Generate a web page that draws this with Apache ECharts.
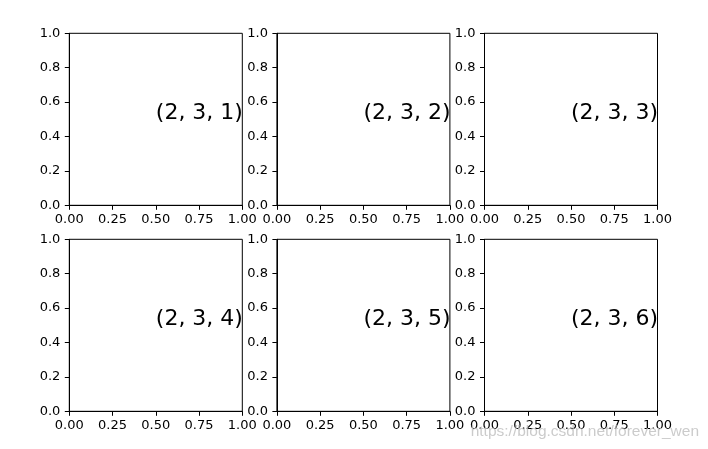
<!DOCTYPE html>
<html>
<head>
<meta charset="utf-8">
<script src="https://cdn.jsdelivr.net/npm/echarts@6/dist/echarts.min.js"></script>
<style>html,body{margin:0;padding:0;background:#fff}#c{width:708px;height:449px}</style>
</head>
<body>
<div id="c"></div>
<script>
const subplotLabels = ['(2, 3, 1)', '(2, 3, 2)', '(2, 3, 3)', '(2, 3, 4)', '(2, 3, 5)', '(2, 3, 6)'];
const textPoint = [0.5, 0.5];
const xRange = [0, 1];
const xStep = 0.25;
const yRange = [0, 1];
const yStep = 0.2;
const watermark = 'https://blog.csdn.net/forever_wen';

const FONT = 'DejaVu Sans';
const colLefts = [69.3, 276.9, 484.5];
const rowTops = [33.3, 239.3];
const W = 173, H = 172;

const grids = [], xAxes = [], yAxes = [], series = [];
subplotLabels.forEach((lab, i) => {
  const r = Math.floor(i / 3), c = i % 3;
  grids.push({left: colLefts[c], top: rowTops[r], width: W, height: H,
    show: true, borderColor: '#000', borderWidth: 1, backgroundColor: 'transparent', containLabel: false});
  xAxes.push({type: 'value', gridIndex: i, min: xRange[0], max: xRange[1], interval: xStep,
    splitLine: {show: false},
    axisLine: {show: true, onZero: false, lineStyle: {color: '#000', width: 1}},
    axisTick: {show: true, inside: false, length: 4.5, lineStyle: {color: '#000', width: 1}},
    axisLabel: {show: true, margin: 8, color: '#000', fontFamily: FONT, fontSize: 13,
      formatter: v => v.toFixed(2), showMinLabel: true, showMaxLabel: true, hideOverlap: false}});
  yAxes.push({type: 'value', gridIndex: i, min: yRange[0], max: yRange[1], interval: yStep,
    splitLine: {show: false},
    axisLine: {show: true, onZero: false, lineStyle: {color: '#000', width: 1}},
    axisTick: {show: true, inside: false, length: 4.5, lineStyle: {color: '#000', width: 1}},
    axisLabel: {show: true, margin: 9, color: '#000', fontFamily: FONT, fontSize: 13,
      formatter: v => v.toFixed(1), showMinLabel: true, showMaxLabel: true, hideOverlap: false}});
  series.push({type: 'scatter', xAxisIndex: i, yAxisIndex: i, symbolSize: 0, silent: true,
    itemStyle: {opacity: 1},
    data: [{value: textPoint, name: lab}],
    label: {show: true, position: 'right', distance: 0, offset: [0, -6],
      formatter: p => p.name, color: '#000', opacity: 1, fontFamily: FONT, fontSize: 22,
      align: 'left', verticalAlign: 'middle'}});
});

const chart = echarts.init(document.getElementById('c'), null, {renderer: 'canvas'});
chart.setOption({
  animation: false,
  backgroundColor: '#fff',
  grid: grids, xAxis: xAxes, yAxis: yAxes, series: series,
  graphic: [{type: 'text', right: 9, top: 424, silent: true, z: 100,
    style: {text: watermark, fill: 'rgba(190,190,190,0.8)', font: '15.5px "Liberation Sans"'}}]
});
</script>
</body>
</html>
